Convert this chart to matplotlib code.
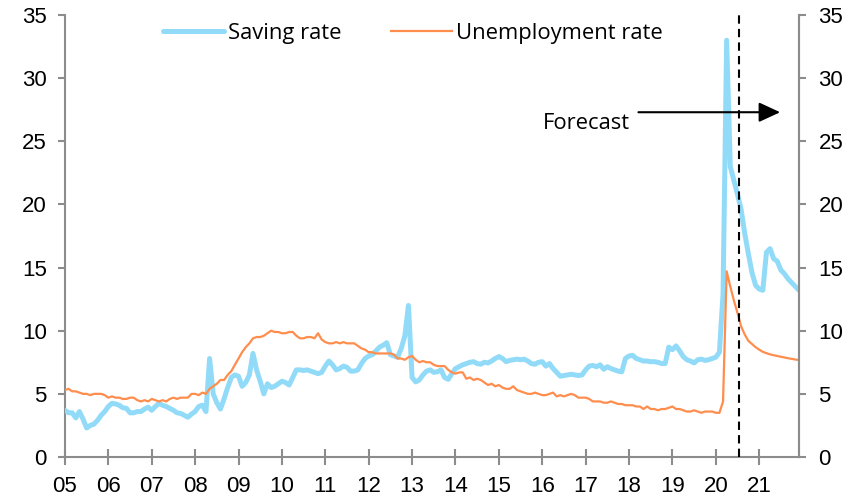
import matplotlib

matplotlib.use("Agg")
import matplotlib.pyplot as plt
import numpy as np

# monthly data, Jan 2005 - Dec 2021 (values from Jul 2020 are forecasts)
saving_2005_2012 = [
    3.7, 3.5, 3.5, 3.1, 3.6, 3.0, 2.3, 2.5, 2.6, 2.9, 3.3, 3.6,
    4.0, 4.25, 4.2, 4.1, 3.9, 3.85, 3.5, 3.5, 3.6, 3.6, 3.8, 3.95,
    3.7, 4.0, 4.25, 4.1, 4.0, 3.85, 3.7, 3.5, 3.45, 3.3, 3.15, 3.4,
    3.6, 4.0, 4.1, 3.6, 7.8, 5.0, 4.3, 3.8, 4.6, 5.5, 6.3, 6.5,
    6.4, 5.6, 5.9, 6.5, 8.2, 6.9, 6.0, 5.0, 5.8, 5.5, 5.6, 5.8,
    6.0, 5.9, 5.7, 6.3, 6.9, 6.9, 6.85, 6.9, 6.8, 6.7, 6.6, 6.7,
    7.2, 7.6, 7.3, 6.9, 7.0, 7.2, 7.1, 6.8, 6.8, 6.9, 7.4, 7.8,
    8.0, 8.1, 8.4, 8.7, 8.85, 9.05, 8.1, 8.0, 7.9, 8.6, 9.6, 12.0,
]
saving_2013_2021 = [
    6.3, 5.95, 6.1, 6.5, 6.8, 6.9, 6.7, 6.75, 6.9, 6.3, 6.15, 6.6,
    7.0, 7.15, 7.3, 7.4, 7.5, 7.55, 7.4, 7.35, 7.5, 7.45, 7.6, 7.8,
    7.95, 7.8, 7.55, 7.65, 7.7, 7.75, 7.7, 7.75, 7.6, 7.4, 7.35, 7.5,
    7.55, 7.2, 7.4, 7.0, 6.7, 6.4, 6.45, 6.5, 6.55, 6.5, 6.45, 6.5,
    6.9, 7.2, 7.25, 7.15, 7.3, 6.95, 7.15, 7.0, 6.9, 6.8, 6.75, 7.8,
    8.0, 8.05, 7.8, 7.7, 7.6, 7.6, 7.55, 7.55, 7.5, 7.4, 7.4, 8.7,
    8.5, 8.8, 8.4, 7.95, 7.7, 7.6, 7.45, 7.7, 7.75, 7.65, 7.7, 7.8,
    7.9, 8.3, 12.9, 33.0, 23.0, 21.9, 20.8, 19.6, 17.7, 16.1, 14.6, 13.6,
    13.3, 13.2, 16.2, 16.5, 15.7, 15.5, 14.8, 14.5, 14.1, 13.8, 13.5, 13.2,
]
unemp_2005_2012 = [
    5.3, 5.4, 5.2, 5.2, 5.1, 5.0, 5.0, 4.9, 5.0, 5.0, 5.0, 4.9,
    4.7, 4.8, 4.7, 4.7, 4.6, 4.6, 4.7, 4.7, 4.5, 4.4, 4.5, 4.4,
    4.6, 4.5, 4.4, 4.5, 4.4, 4.6, 4.7, 4.6, 4.7, 4.7, 4.7, 5.0,
    5.0, 4.9, 5.1, 5.0, 5.4, 5.6, 5.8, 6.1, 6.1, 6.5, 6.8, 7.3,
    7.8, 8.3, 8.7, 9.0, 9.4, 9.5, 9.5, 9.6, 9.8, 10.0, 9.9, 9.9,
    9.8, 9.8, 9.9, 9.9, 9.6, 9.4, 9.4, 9.5, 9.5, 9.4, 9.8, 9.3,
    9.1, 9.0, 9.0, 9.1, 9.0, 9.1, 9.0, 9.0, 9.0, 8.8, 8.6, 8.5,
    8.3, 8.3, 8.2, 8.2, 8.2, 8.2, 8.2, 8.1, 7.8, 7.8, 7.7, 7.9,
]
unemp_2013_2021 = [
    8.0, 7.7, 7.5, 7.6, 7.5, 7.5, 7.3, 7.2, 7.2, 7.2, 6.9, 6.7,
    6.6, 6.7, 6.7, 6.2, 6.3, 6.1, 6.2, 6.1, 5.9, 5.7, 5.8, 5.6,
    5.7, 5.5, 5.4, 5.4, 5.6, 5.3, 5.2, 5.1, 5.0, 5.0, 5.1, 5.0,
    4.9, 4.9, 5.0, 5.1, 4.8, 4.9, 4.8, 4.9, 5.0, 4.9, 4.7, 4.7,
    4.7, 4.6, 4.4, 4.4, 4.4, 4.3, 4.3, 4.4, 4.3, 4.2, 4.2, 4.1,
    4.1, 4.1, 4.0, 4.0, 3.8, 4.0, 3.8, 3.8, 3.7, 3.8, 3.8, 3.9,
    4.0, 3.8, 3.8, 3.7, 3.6, 3.6, 3.7, 3.6, 3.5, 3.6, 3.6, 3.6,
    3.5, 3.5, 4.4, 14.7, 13.5, 12.4, 11.4, 10.35, 9.7, 9.2, 8.95, 8.7,
    8.5, 8.33, 8.22, 8.13, 8.06, 8.0, 7.94, 7.88, 7.82, 7.77, 7.72, 7.68,
]
year_labels = ["05", "06", "07", "08", "09", "10", "11", "12", "13",
               "14", "15", "16", "17", "18", "19", "20", "21"]
y_ticks = [0, 5, 10, 15, 20, 25, 30, 35]

forecast_start = 186.5  # month index of the dashed line (mid Jul 2020)

BLUE = "#92dbf8"
ORANGE = "#ff8d4d"
GREY = "#8c8c8c"
TEXT_FONT = ["Open Sans", "DejaVu Sans"]

saving_rate = saving_2005_2012 + saving_2013_2021
unemployment = unemp_2005_2012 + unemp_2013_2021
months = np.arange(len(saving_rate))

plt.rcParams["font.family"] = ["Liberation Sans", "DejaVu Sans"]

fig = plt.figure(figsize=(8.66, 4.96), dpi=100)
ax = fig.add_axes([0.075, 0.0786, 0.8476, 0.8912])

ax.plot(months, saving_rate, color=BLUE, lw=3.6, solid_joinstyle="round",
        solid_capstyle="round", label="Saving rate", zorder=3)
ax.plot(months, unemployment, color=ORANGE, lw=1.6, label="Unemployment rate", zorder=4)
ax.axvline(forecast_start, color="black", lw=1.5, ls=(0, (4, 2.5)), zorder=5)

ax.set_xlim(0, len(months) - 1)
ax.set_ylim(0, 35)
ax.set_xticks(np.arange(len(year_labels)) * 12)
ax.set_xticklabels(year_labels)
ax.set_yticks(y_ticks)

for side in ["left", "right", "bottom"]:
    ax.spines[side].set_color(GREY)
    ax.spines[side].set_linewidth(1.5)
ax.spines["top"].set_visible(False)

ax.tick_params(axis="x", direction="inout", length=11, width=1.5, color=GREY,
               labelsize=16, pad=8.5)
ax.tick_params(axis="y", direction="out", length=5, width=1.5, color=GREY,
               labelsize=16, pad=8)

ax_r = ax.twinx()
ax_r.set_ylim(0, 35)
ax_r.set_yticks(y_ticks)
ax_r.spines["right"].set_color(GREY)
ax_r.spines["right"].set_linewidth(1.5)
for side in ["left", "top", "bottom"]:
    ax_r.spines[side].set_visible(False)
ax_r.tick_params(axis="y", direction="out", length=5, width=1.5, color=GREY,
                 labelsize=16, pad=9)

# forecast arrow and label
ax.annotate("", xy=(197.8, 27.3), xytext=(158.6, 27.3),
            arrowprops=dict(arrowstyle="-|>,head_length=1.3,head_width=0.6",
                            mutation_scale=10, color="black", lw=1.5,
                            shrinkA=0, shrinkB=0))
ax.text(156.2, 26.4, "Forecast", ha="right", va="center", fontsize=15.8,
        family=TEXT_FONT)

ax.legend(loc="center left", bbox_to_anchor=(0.122, 0.959), ncol=2, frameon=False,
          borderaxespad=0, handlelength=2.78, handletextpad=0.18, columnspacing=2.24,
          prop={"family": TEXT_FONT, "size": 15.8})

fig.savefig("out.png", dpi=100)
plt.close(fig)
